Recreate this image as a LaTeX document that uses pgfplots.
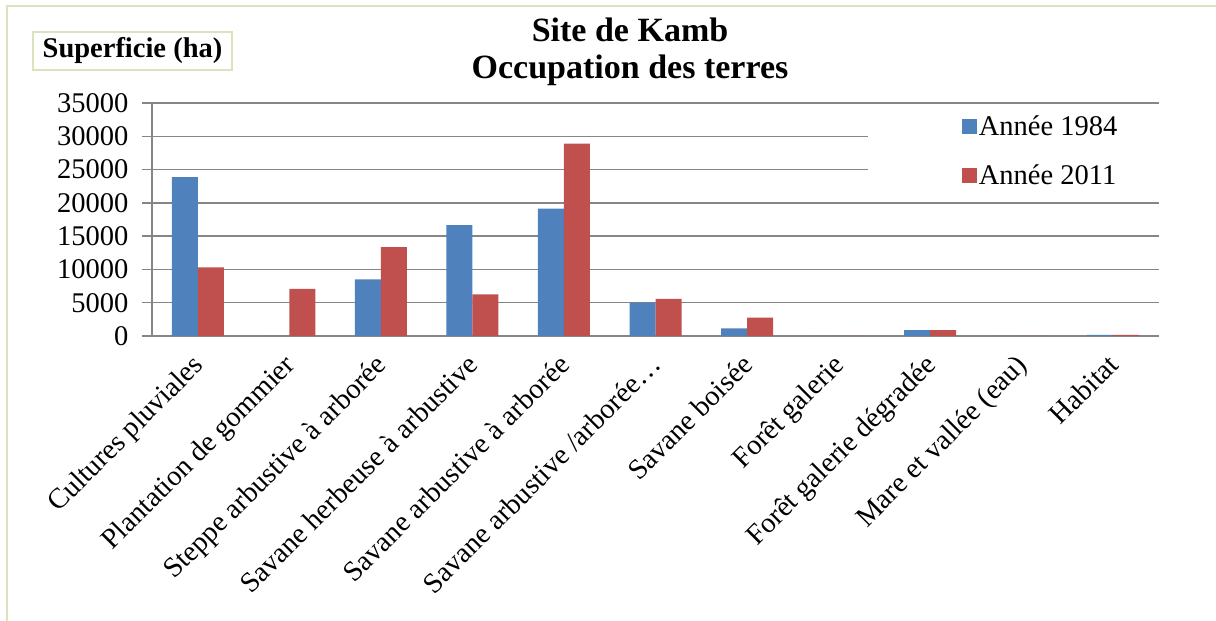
\documentclass[border=0pt]{standalone}
\usepackage{pgfplots}
\pgfplotsset{compat=1.18}
\usepackage{fontspec}
\setmainfont{Liberation Serif}

\definecolor{bleu}{RGB}{79,129,189}
\definecolor{rouge}{RGB}{192,80,77}
\definecolor{grille}{RGB}{134,134,134}
\definecolor{cadre}{RGB}{215,228,190}

\begin{document}
\begin{tikzpicture}
  \useasboundingbox (0,0) rectangle (1216pt,621pt);
  % chart frame (only top and left visible)
  \draw[cadre, line width=2pt] (7pt,0pt) -- (7pt,615pt) -- (1216pt,615pt);

  % title and axis title box
  \node[font=\fontsize{34}{38}\selectfont\bfseries, align=center] at (630pt,569pt)
    {Site de Kamb\\[-1pt]Occupation des terres};
  \node[draw=cadre, line width=1.5pt, fill=white, minimum width=199pt, minimum height=38pt,
        font=\fontsize{28.5}{32}\selectfont\bfseries] at (132.5pt,570pt) {Superficie (ha)};

  \begin{axis}[
    at={(152pt,285pt)}, anchor=south west,
    scale only axis,
    width=1007pt, height=233pt,
    ybar=0pt, bar width=26pt,
    xmin=-0.5, xmax=10.5,
    ymin=0, ymax=35000,
    xtick={0,...,10},
    xticklabels={Cultures pluviales, Plantation de gommier,
      Steppe arbustive à arborée, Savane herbeuse à arbustive,
      Savane arbustive à arborée, Savane arbustive /arborée…,
      Savane boisée, Forêt galerie, Forêt galerie dégradée,
      Mare et vallée (eau), Habitat},
    xticklabel style={xshift=-7pt, yshift=-5pt, rotate=45, anchor=north east, inner sep=1pt},
    xtick style={draw=none},
    ytick={0,5000,...,35000},
    scaled y ticks=false,
    /pgf/number format/1000 sep={},
    /pgf/number format/assume math mode=true,
    yticklabel style={xshift=-10pt},
    tick label style={font=\fontsize{28.5}{32}\selectfont},
    ytick align=outside, major tick length=10pt,
    ytick style={grille, line width=1.5pt},
    axis lines*=left,
    axis line style={grille, line width=1.5pt},
    ymajorgrids, grid style={grille, line width=1.5pt},
    legend style={at={(0.804,0.955)}, anchor=north west, draw=none, fill=none,
      font=\fontsize{28.5}{32}\selectfont, row sep=24pt, inner sep=0pt},
    legend cell align=left,
    legend image code/.code={\fill[#1] (0pt,-7.5pt) rectangle (15pt,7.5pt);},
    /tikz/every even column/.append style={column sep=6pt},
  ]
    % white legend area over the grid
    \fill[white] (rel axis cs:0.711,0.99) rectangle (rel axis cs:1.001,0.58);
    \addplot[fill=bleu, draw=none] coordinates {
      (0,23850) (1,0) (2,8520) (3,16650) (4,19150) (5,5010)
      (6,1150) (7,0) (8,900) (9,0) (10,150)
    };
    \addplot[fill=rouge, draw=none] coordinates {
      (0,10300) (1,7070) (2,13350) (3,6270) (4,28880) (5,5560)
      (6,2760) (7,0) (8,900) (9,0) (10,150)
    };
    \legend{Année 1984, Année 2011}
  \end{axis}
\end{tikzpicture}
\end{document}
